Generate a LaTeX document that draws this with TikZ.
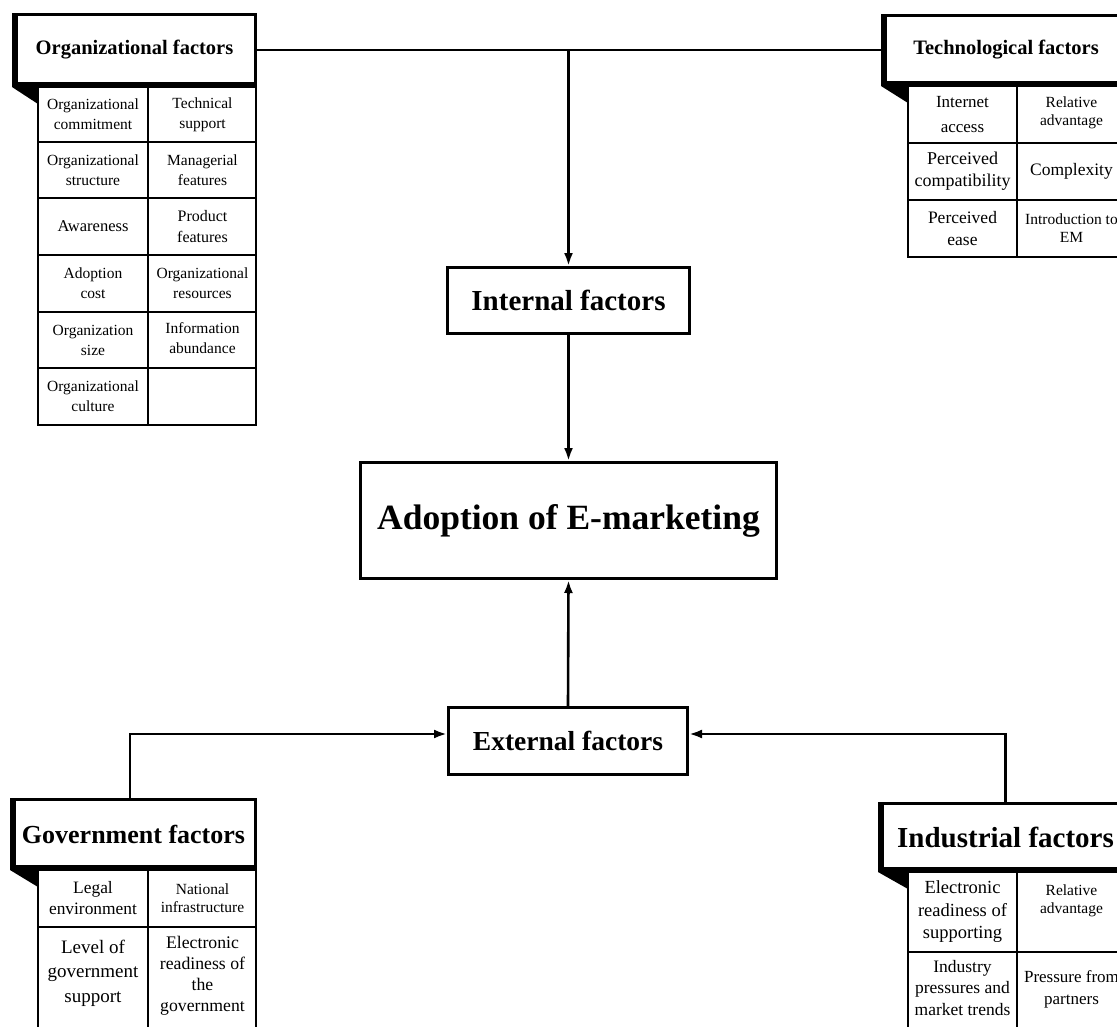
\documentclass[tikz,border=0pt]{standalone}
\usepackage{fontspec}
\setmainfont{Liberation Serif}
\usetikzlibrary{calc,arrows.meta}
\newcommand\fz[2]{\fontsize{#1}{#2}\selectfont}
\newcommand\hdrshadow[2]{%
  \fill (#1.north west) rectangle ($(#1.south west)+(5.5,0)$);
  \fill ($(#1.south west)+(0,-5.5)$) rectangle (#1.south east);
  \fill (#1.south west) -- ($(#1.south west)+(#2,0)$) -- ($(#1.south west)+(#2,17)$) -- cycle;
}
\begin{document}
\begin{tikzpicture}[x=1pt,y=-1pt,
  hdr/.style={draw, line width=3pt, inner sep=0pt, fill=white},
  cbox/.style={draw, line width=3pt, inner sep=0pt},
  cell/.style={inner sep=0pt, align=center},
  gridl/.style={line width=2pt},
  conn/.style={line width=2.6pt},
  arr/.style={conn, -{Latex[length=13pt,width=9pt]}}]
\useasboundingbox (0,0) rectangle (1117,1026);
\fill[white] (0,0) rectangle (1117,1026);
\clip (0,0) rectangle (1117,1026);

% ---------- headers ----------
\node[hdr, minimum width=242pt, minimum height=71pt, font=\bfseries\fz{20.5}{24}] (org) at (134.5,50) {Organizational factors};
\node[hdr, minimum width=247pt, minimum height=69pt, font=\bfseries\fz{20.5}{24}] (tech) at (1006,50) {Technological factors};
\node[hdr, minimum width=244pt, minimum height=69pt, font=\bfseries\fz{26}{30}] (gov) at (133.5,834) {Government factors};
\node[hdr, minimum width=252pt, minimum height=67pt, font=\bfseries\fz{29}{33}] (ind) at (1005.5,837) {Industrial factors};
\hdrshadow{org}{26}
\hdrshadow{tech}{27}
\hdrshadow{gov}{28}
\hdrshadow{ind}{30}

% ---------- central boxes ----------
\node[cbox, minimum width=242pt, minimum height=66pt, font=\bfseries\fz{29}{33}] (int) at (568.5,300.5) {Internal factors};
\node[cbox, minimum width=416pt, minimum height=116pt, font=\bfseries\fz{35.5}{40}] (adopt) at (568.5,520.5) {Adoption of E-marketing};
\node[cbox, minimum width=239pt, minimum height=67pt, font=\bfseries\fz{27.5}{31}] (ext) at (568,741) {External factors};

% ---------- tables: grid lines ----------
% organizational
\draw[gridl] (38,87) rectangle (256,425);
\draw[gridl] (148,87) -- (148,425);
\foreach \yy in {142,198,255,312,368} \draw[gridl] (38,\yy) -- (256,\yy);
% technological
\draw[gridl] (908,86) rectangle (1126,257);
\draw[gridl] (1017,86) -- (1017,257);
\foreach \yy in {143,200} \draw[gridl] (908,\yy) -- (1126,\yy);
% government
\draw[gridl] (38,870) rectangle (256,1030);
\draw[gridl] (148,870) -- (148,1030);
\draw[gridl] (38,927) -- (256,927);
% industrial
\draw[gridl] (908,872) rectangle (1126,1030);
\draw[gridl] (1017,872) -- (1017,1030);
\draw[gridl] (908,952) -- (1126,952);

% ---------- table texts ----------
\begin{scope}[every node/.style={cell, font=\fz{15.5}{20}}]
\node (o11) at (93,114.5) {Organizational\\commitment};
\node (o12) at (202.5,114.5) {Technical\\support};
\node (o21) at (93,170) {Organizational\\structure};
\node (o22) at (202.5,170) {Managerial\\features};
\node[font=\fz{16.5}{20}] (o31) at (93,226.5) {Awareness};
\node[font=\fz{16}{21}] (o32) at (202.5,226.5) {Product\\features};
\node (o41) at (93,283.5) {Adoption\\cost};
\node (o42) at (202.5,283.5) {Organizational\\resources};
\node (o51) at (93,340) {Organization\\size};
\node (o52) at (202.5,338) {Information\\abundance};
\node (o61) at (93,396.5) {Organizational\\culture};

\node[font=\fz{17}{25}] (t11) at (962.5,114.5) {Internet\\access};
\node[font=\fz{15.5}{18}] (t12) at (1071.5,113) {Relative\\advantage};
\node[font=\fz{18}{22}] (t21) at (962.5,171.5) {Perceived\\compatibility};
\node[font=\fz{17.5}{21}] (t22) at (1071.5,171.5) {Complexity};
\node[font=\fz{17.5}{22}] (t31) at (962.5,228.5) {Perceived\\ease};
\node[font=\fz{15.5}{18}] (t32) at (1071.5,228.5) {Introduction to\\EM};

\node[font=\fz{17.4}{21}] (g11) at (93,898.5) {Legal\\environment};
\node[font=\fz{15.5}{18}] (g12) at (202.5,898.5) {National\\infrastructure};
\node[font=\fz{19}{24.5}] (g21) at (93,973) {Level of\\government\\support};
\node[font=\fz{17.7}{21}] (g22) at (202.5,976) {Electronic\\readiness of\\the\\government};

\node[font=\fz{18.5}{22.5}] (i11) at (962.5,912) {Electronic\\readiness of\\supporting};
\node[font=\fz{15.5}{18}] (i12) at (1071.5,901) {Relative\\advantage};
\node[font=\fz{17.5}{21.5}] (i21) at (962.5,988) {Industry\\pressures and\\market trends};
\node[font=\fz{17}{22}] (i22) at (1071.5,989) {Pressure from\\partners};
\end{scope}

% ---------- connectors ----------
\draw[conn] (org.east) -- (tech.west);
\draw[arr] (org.east -| int.north) -- (int.north);
\draw[arr] (int.south) -- (adopt.north);
\draw[arr] (ext.north) -- (adopt.south);
\draw[arr] ($(gov.north)+(-3.5,0)$) |- ($(ext.west)+(0,-7)$);
\draw[arr] (ind.north) |- ($(ext.east)+(0,-7)$);
\end{tikzpicture}
\end{document}
